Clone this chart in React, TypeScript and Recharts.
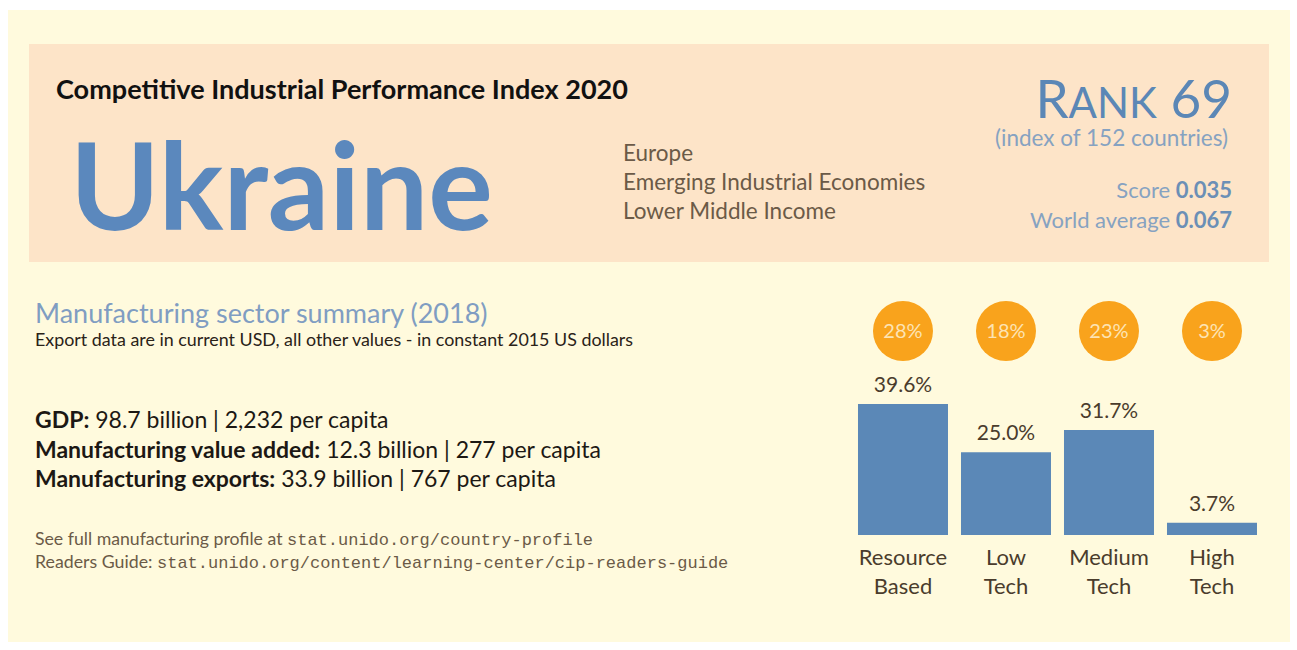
import React from "react";
import { BarChart, Bar, XAxis, YAxis, LabelList } from "recharts";

// ---- data ----
const categories = ["Resource Based", "Low Tech", "Medium Tech", "High Tech"];
const mvaShare = [39.6, 25.0, 31.7, 3.7];
const exportShare = [28, 18, 23, 3];

const regionLines = ["Europe", "Emerging Industrial Economies", "Lower Middle Income"];
const summaryLines = [
  ["GDP:", "98.7 billion | 2,232 per capita"],
  ["Manufacturing value added:", "12.3 billion | 277 per capita"],
  ["Manufacturing exports:", "33.9 billion | 767 per capita"],
];

const data = categories.map((c, i) => ({
  name: c,
  mva: mvaShare[i],
  exp: exportShare[i],
}));

const FONT = "Lato, 'Open Sans', sans-serif";
const MONO = "'Liberation Mono', 'DejaVu Sans Mono', monospace";
const BLUE = "#5b88b7";
const BROWN = "#4a3c2c";

const CategoryTick = ({ x, y, payload }: any) => {
  const words = String(payload.value).split(" ");
  return (
    <text x={x} y={y} textAnchor="middle" fill={BROWN} fontSize={22} fontFamily={FONT}>
      <tspan x={x} dy={22}>{words[0]}</tspan>
      <tspan x={x} dy={29}>{words[1]}</tspan>
    </text>
  );
};

const ExportCircle = (props: any) => {
  const { x, width, value } = props;
  const cx = x + width / 2;
  const cy = 41;
  return (
    <g>
      <circle cx={cx} cy={cy} r={30} fill="#f9a31c" />
      <text x={cx} y={cy + 7} textAnchor="middle" fill="#fde3b4" fontSize={20} fontFamily={FONT}>
        {value}%
      </text>
    </g>
  );
};

export default function App() {
  return (
    <div style={{ position: "absolute", left: 0, top: 0, width: 1297, height: 650, background: "#ffffff", overflow: "hidden" }}>
      <div style={{ position: "absolute", left: 8, top: 10, width: 1282, height: 632, background: "#fffadd" }} />
      <div style={{ position: "absolute", left: 29, top: 44, width: 1240, height: 218, background: "#fde4c8" }} />
      <svg width={1297} height={650} style={{ position: "absolute", left: 0, top: 0 }} fontFamily={FONT}>
        <text x={56} y={99} fontSize={26.5} fontWeight={700} fill="#111111" textLength={572} lengthAdjust="spacingAndGlyphs">
          Competitive Industrial Performance Index 2020
        </text>
        <text x={70} y={230} fontSize={121} fontWeight={700} fill="#5b88bd">
          Ukraine
        </text>
        {regionLines.map((t, i) => (
          <text key={t} x={623} y={161 + i * 29} fontSize={22.5} fill="#6b5a47">{t}</text>
        ))}
        <text x={1232} y={118} textAnchor="end" fill="#5b87b6" fontSize={53}>
          R<tspan fontSize={42}>ANK</tspan> 69
        </text>
        <text x={1228} y={146} textAnchor="end" fill="#86a2c1" fontSize={22.5}>
          (index of 152 countries)
        </text>
        <text x={1232} y={198} textAnchor="end" fill="#86a2c1" fontSize={22}>
          Score <tspan fontWeight={700} fill="#6b8fb6">0.035</tspan>
        </text>
        <text x={1232} y={228} textAnchor="end" fill="#86a2c1" fontSize={22}>
          World average <tspan fontWeight={700} fill="#6b8fb6">0.067</tspan>
        </text>

        <text x={35} y={323} fontSize={27} fill="#809dc2">Manufacturing sector summary (2018)</text>
        <text x={35} y={346} fontSize={17.5} fill="#2a2218" textLength={598} lengthAdjust="spacingAndGlyphs">
          Export data are in current USD, all other values - in constant 2015 US dollars
        </text>
        {summaryLines.map(([k, v], i) => (
          <text key={k} x={35} y={428 + i * 29.5} fontSize={23} fill="#1c1814">
            <tspan fontWeight={700}>{k}</tspan> {v}
          </text>
        ))}
        <text x={35} y={545} fontSize={17} fill="#6b5a47">
          <tspan textLength={252} lengthAdjust="spacingAndGlyphs">See full manufacturing profile at </tspan>
          <tspan fontFamily={MONO} fontSize={17}>stat.unido.org/country-profile</tspan>
        </text>
        <text x={35} y={568} fontSize={17} fill="#6b5a47">
          <tspan textLength={122} lengthAdjust="spacingAndGlyphs">Readers Guide: </tspan>
          <tspan fontFamily={MONO} fontSize={17}>stat.unido.org/content/learning-center/cip-readers-guide</tspan>
        </text>
      </svg>

      <div style={{ position: "absolute", left: 840, top: 290 }}>
        <BarChart
          width={440}
          height={330}
          data={data}
          margin={{ top: 112.6, right: 16.5, bottom: 55, left: 11.5 }}
          barCategoryGap="6.3%"
        >
          <XAxis dataKey="name" axisLine={false} tickLine={false} interval={0} height={30} tick={<CategoryTick />} />
          <YAxis hide domain={[0, 40]} />
          <Bar dataKey="mva" fill={BLUE} isAnimationActive={false}>
            <LabelList
              dataKey="mva"
              position="top"
              offset={12}
              formatter={(v: any) => `${Number(v).toFixed(1)}%`}
              style={{ fill: BROWN, fontSize: 21, fontFamily: FONT }}
            />
            <LabelList dataKey="exp" content={<ExportCircle />} />
          </Bar>
        </BarChart>
      </div>
    </div>
  );
}
